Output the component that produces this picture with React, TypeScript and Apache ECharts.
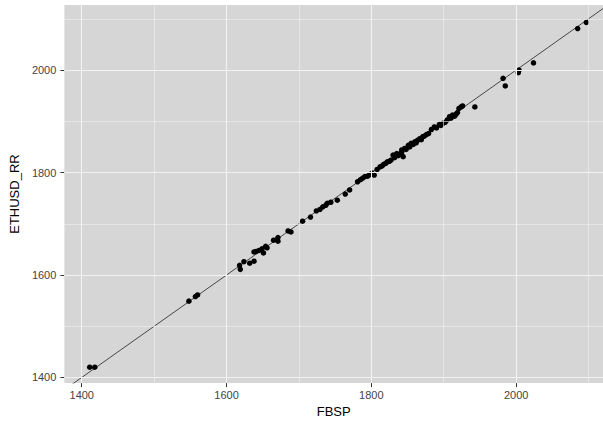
import React, { useEffect, useRef } from "react";
import * as echarts from "echarts";

const fbsp = [
  1411, 1418, 1548, 1557, 1560, 1618, 1619, 1624, 1632, 1638, 1638, 1641, 1645, 1649, 1651, 1654, 1656,
  1665, 1671, 1671, 1685, 1689, 1705, 1716, 1724, 1729, 1733, 1737, 1739, 1744, 1753, 1764, 1770,
  1781, 1785, 1788, 1791, 1795, 1798, 1801, 1804, 1808, 1812, 1815, 1817, 1820, 1822, 1825, 1827,
  1830, 1832, 1835, 1837, 1839, 1842, 1842, 1844, 1846, 1848, 1851, 1853, 1855, 1858, 1860, 1862,
  1864, 1867, 1869, 1871, 1873, 1876, 1879, 1883, 1887, 1890, 1894, 1896, 1899, 1902, 1905, 1908,
  1910, 1912, 1915, 1917, 1919, 1921, 1924, 1926, 1943, 1982, 1985, 2003, 2004, 2024, 2085, 2097,
];
const ethusd = [
  1420, 1420, 1549, 1558, 1561, 1619, 1611, 1626, 1623, 1627, 1645, 1646, 1648, 1651, 1643, 1656, 1653,
  1668, 1673, 1666, 1686, 1684, 1705, 1713, 1725, 1728, 1733, 1736, 1740, 1742, 1746, 1758, 1766,
  1782, 1786, 1789, 1792, 1793, 1796, 1799, 1795, 1806, 1811, 1813, 1816, 1818, 1821, 1822, 1824,
  1834, 1829, 1837, 1833, 1836, 1840, 1844, 1831, 1847, 1845, 1853, 1850, 1857, 1855, 1860, 1858,
  1863, 1866, 1864, 1870, 1871, 1874, 1876, 1884, 1889, 1887, 1894, 1892, 1896, 1898, 1903, 1909,
  1906, 1912, 1910, 1914, 1917, 1925, 1928, 1930, 1928, 1984, 1969, 1995, 2000, 2014, 2081, 2093,
];

const xTicks = [1400, 1600, 1800, 2000];
const yTicks = [1400, 1600, 1800, 2000];
const xMinor = [1500, 1700, 1900, 2100];
const yMinor = [1500, 1700, 1900, 2100];
const xLimits = [1376, 2120];
const yLimits = [1389, 2127];
const identityLine = [
  [1300, 1300],
  [2200, 2200],
];

const FONT = "'Liberation Sans', Arial, sans-serif";

export default function App() {
  const ref = useRef<HTMLDivElement>(null);
  useEffect(() => {
    if (!ref.current) return;
    const chart = echarts.init(ref.current, null, { renderer: "svg" });
    const gridData = [
      ...xMinor.map((v) => ({ xAxis: v, lineStyle: { width: 0.6 } })),
      ...yMinor.map((v) => ({ yAxis: v, lineStyle: { width: 0.6 } })),
      ...xTicks.map((v) => ({ xAxis: v, lineStyle: { width: 1.1 } })),
      ...yTicks.map((v) => ({ yAxis: v, lineStyle: { width: 1.1 } })),
    ];
    chart.setOption({
      animation: false,
      grid: {
        left: 62,
        top: 5,
        right: 0,
        bottom: 39,
        show: true,
        backgroundColor: "#d6d6d6",
        borderWidth: 0,
      },
      xAxis: {
        type: "value",
        min: xLimits[0],
        max: xLimits[1],
        name: "FBSP",
        nameLocation: "middle",
        nameGap: 19,
        nameTextStyle: { color: "#000", fontSize: 13, fontFamily: FONT, verticalAlign: "top" },
        axisLine: { show: false },
        axisTick: { show: true, length: 4, customValues: xTicks, lineStyle: { color: "#333", width: 1 } },
        axisLabel: {
          customValues: xTicks,
          formatter: (v: number) => String(v),
          color: "#444444",
          fontSize: 11,
          fontFamily: FONT,
          margin: 6,
        },
        splitLine: { show: false },
      },
      yAxis: {
        type: "value",
        min: yLimits[0],
        max: yLimits[1],
        name: "ETHUSD_RR",
        nameLocation: "middle",
        nameGap: 43,
        nameRotate: 90,
        nameTextStyle: { color: "#000", fontSize: 13, fontFamily: FONT },
        axisLine: { show: false },
        axisTick: { show: true, length: 4, customValues: yTicks, lineStyle: { color: "#333", width: 1 } },
        axisLabel: {
          customValues: yTicks,
          formatter: (v: number) => String(v),
          color: "#444444",
          fontSize: 11,
          fontFamily: FONT,
          margin: 8,
        },
        splitLine: { show: false },
      },
      series: [
        {
          type: "line",
          data: [],
          z: 1,
          silent: true,
          markLine: {
            silent: true,
            symbol: "none",
            label: { show: false },
            lineStyle: { color: "#f2f2f2", type: "solid" },
            emphasis: { disabled: true },
            data: gridData,
          },
        },
        {
          type: "line",
          data: identityLine,
          z: 2,
          clip: true,
          silent: true,
          showSymbol: false,
          symbol: "none",
          lineStyle: { color: "#222", width: 0.8 },
        },
        {
          type: "scatter",
          data: fbsp.map((x, i) => [x, ethusd[i]]),
          z: 3,
          symbolSize: 5.5,
          itemStyle: { color: "#000", opacity: 1 },
          emphasis: { disabled: true },
          silent: true,
        },
      ],
    });
    return () => chart.dispose();
  }, []);
  return (
    <div
      ref={ref}
      style={{ position: "fixed", left: 0, top: 0, width: 603, height: 423, background: "#fff" }}
    />
  );
}
